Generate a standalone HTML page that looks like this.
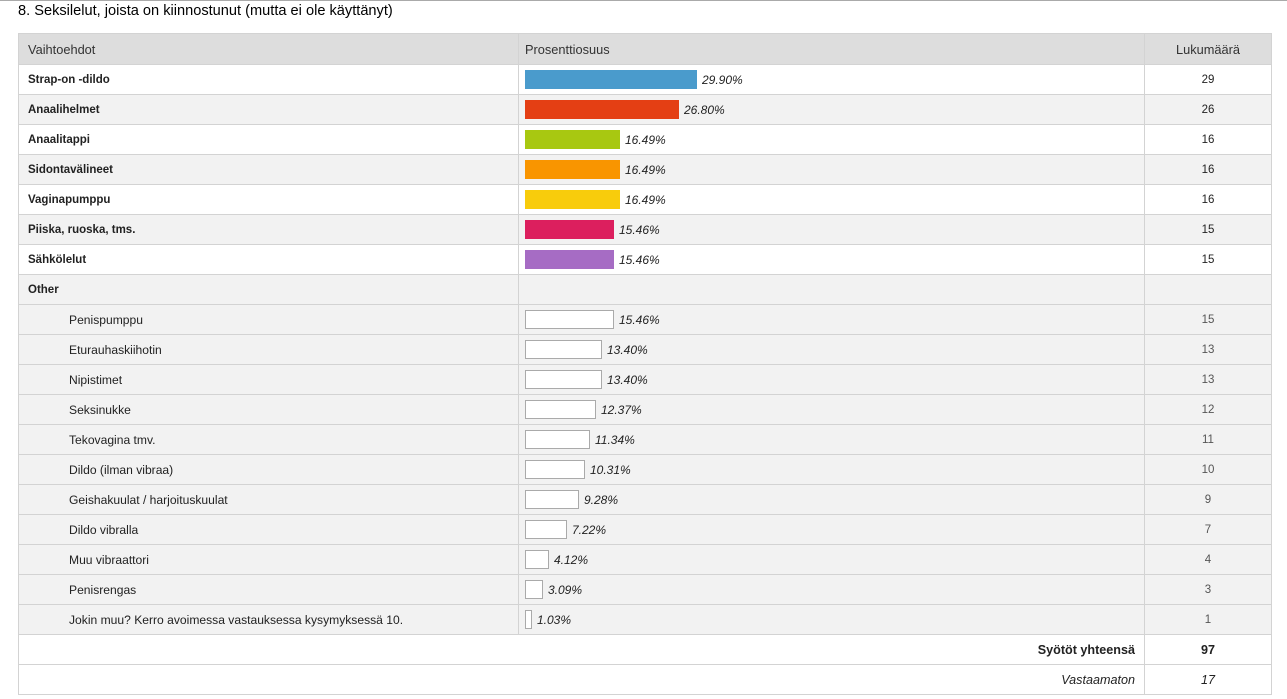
<!DOCTYPE html><html><head><meta charset="utf-8"><style>
body{margin:0;background:#fff;font-family:"Liberation Sans",sans-serif;width:1287px;height:699px;overflow:hidden;position:relative}
.top{position:absolute;left:0;top:0;width:1287px;height:1px;background:#aaa}
h1{position:absolute;left:18px;top:3px;margin:0;font-size:14.6px;font-weight:normal;color:#000}
table{position:absolute;left:18px;top:33px;border-collapse:collapse;font-size:11.5px;color:#222}
td{border:1px solid #d3d3d3;height:29px;padding:0;vertical-align:middle}
tr.g td{background:#f2f2f2}
tr.h td{background:#ddd;height:30px;color:#333;font-size:12.8px}
.c1{width:500px;padding-left:9px;box-sizing:border-box}
.c2{width:626px;padding-left:6px;box-sizing:border-box}
.c3{width:126px;text-align:center}
b{font-weight:bold}
.bar{display:inline-block;height:19px;vertical-align:middle;box-sizing:border-box}
.w{background:#fff;border:1px solid #aaa}
.p{font-style:italic;margin-left:5px;vertical-align:middle;font-size:12px}
.s td.c1{padding-left:50px;font-size:12.1px}
.s td.c3{color:#555}
</style></head><body><div class="top"></div>
<h1>8. Seksilelut, joista on kiinnostunut (mutta ei ole käyttänyt)</h1>
<table>
<tr class="h"><td class="c1">Vaihtoehdot</td><td class="c2">Prosenttiosuus</td><td class="c3">Lukumäärä</td></tr>
<tr><td class="c1"><b>Strap-on -dildo</b></td><td class="c2"><span class="bar" style="width:172px;background:#4a9bcc"></span><span class="p">29.90%</span></td><td class="c3">29</td></tr>
<tr class="g"><td class="c1"><b>Anaalihelmet</b></td><td class="c2"><span class="bar" style="width:154px;background:#e43f14"></span><span class="p">26.80%</span></td><td class="c3">26</td></tr>
<tr><td class="c1"><b>Anaalitappi</b></td><td class="c2"><span class="bar" style="width:95px;background:#a8c811"></span><span class="p">16.49%</span></td><td class="c3">16</td></tr>
<tr class="g"><td class="c1"><b>Sidontavälineet</b></td><td class="c2"><span class="bar" style="width:95px;background:#f99500"></span><span class="p">16.49%</span></td><td class="c3">16</td></tr>
<tr><td class="c1"><b>Vaginapumppu</b></td><td class="c2"><span class="bar" style="width:95px;background:#f8cc0c"></span><span class="p">16.49%</span></td><td class="c3">16</td></tr>
<tr class="g"><td class="c1"><b>Piiska, ruoska, tms.</b></td><td class="c2"><span class="bar" style="width:89px;background:#dc1f5e"></span><span class="p">15.46%</span></td><td class="c3">15</td></tr>
<tr><td class="c1"><b>Sähkölelut</b></td><td class="c2"><span class="bar" style="width:89px;background:#a66cc4"></span><span class="p">15.46%</span></td><td class="c3">15</td></tr>
<tr class="g"><td class="c1"><b>Other</b></td><td class="c2"></td><td class="c3"></td></tr>
<tr class="g s"><td class="c1">Penispumppu</td><td class="c2"><span class="bar w" style="width:89px"></span><span class="p">15.46%</span></td><td class="c3">15</td></tr>
<tr class="g s"><td class="c1">Eturauhaskiihotin</td><td class="c2"><span class="bar w" style="width:77px"></span><span class="p">13.40%</span></td><td class="c3">13</td></tr>
<tr class="g s"><td class="c1">Nipistimet</td><td class="c2"><span class="bar w" style="width:77px"></span><span class="p">13.40%</span></td><td class="c3">13</td></tr>
<tr class="g s"><td class="c1">Seksinukke</td><td class="c2"><span class="bar w" style="width:71px"></span><span class="p">12.37%</span></td><td class="c3">12</td></tr>
<tr class="g s"><td class="c1">Tekovagina tmv.</td><td class="c2"><span class="bar w" style="width:65px"></span><span class="p">11.34%</span></td><td class="c3">11</td></tr>
<tr class="g s"><td class="c1">Dildo (ilman vibraa)</td><td class="c2"><span class="bar w" style="width:60px"></span><span class="p">10.31%</span></td><td class="c3">10</td></tr>
<tr class="g s"><td class="c1">Geishakuulat / harjoituskuulat</td><td class="c2"><span class="bar w" style="width:54px"></span><span class="p">9.28%</span></td><td class="c3">9</td></tr>
<tr class="g s"><td class="c1">Dildo vibralla</td><td class="c2"><span class="bar w" style="width:42px"></span><span class="p">7.22%</span></td><td class="c3">7</td></tr>
<tr class="g s"><td class="c1">Muu vibraattori</td><td class="c2"><span class="bar w" style="width:24px"></span><span class="p">4.12%</span></td><td class="c3">4</td></tr>
<tr class="g s"><td class="c1">Penisrengas</td><td class="c2"><span class="bar w" style="width:18px"></span><span class="p">3.09%</span></td><td class="c3">3</td></tr>
<tr class="g s"><td class="c1">Jokin muu? Kerro avoimessa vastauksessa kysymyksessä 10.</td><td class="c2"><span class="bar w" style="width:7px"></span><span class="p">1.03%</span></td><td class="c3">1</td></tr>
<tr><td colspan="2" style="text-align:right;padding-right:9px;font-size:12.6px"><b>Syötöt yhteensä</b></td><td class="c3" style="font-size:12.6px"><b>97</b></td></tr>
<tr><td colspan="2" style="text-align:right;padding-right:9px;font-size:12.6px"><i>Vastaamaton</i></td><td class="c3" style="font-size:12.6px"><i>17</i></td></tr>
</table></body></html>
